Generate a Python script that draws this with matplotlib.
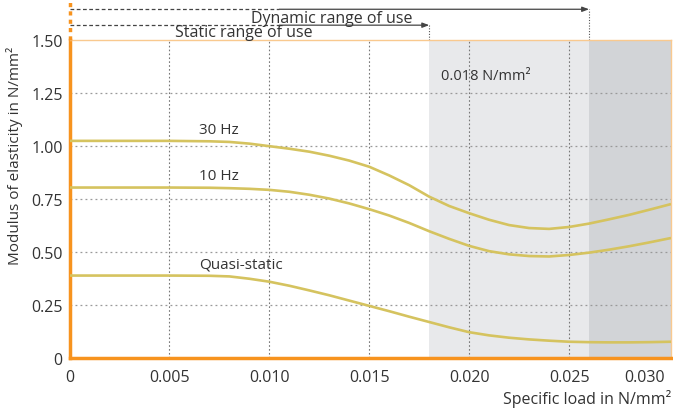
import matplotlib.pyplot as plt
from matplotlib.ticker import FixedLocator
from matplotlib.transforms import ScaledTranslation

plt.rcParams['font.family'] = ['Open Sans', 'DejaVu Sans']

# data
load = [0, 0.005, 0.007, 0.008, 0.009, 0.010, 0.011, 0.012, 0.013, 0.014, 0.015,
        0.016, 0.017, 0.018, 0.019, 0.020, 0.021, 0.022, 0.023, 0.024, 0.025,
        0.026, 0.027, 0.028, 0.029, 0.0301]
hz30 = [1.025, 1.025, 1.023, 1.020, 1.012, 1.000, 0.988, 0.974, 0.955, 0.932, 0.903,
        0.862, 0.816, 0.762, 0.718, 0.684, 0.653, 0.628, 0.614, 0.610, 0.619,
        0.635, 0.655, 0.676, 0.700, 0.727]
hz10 = [0.805, 0.805, 0.804, 0.802, 0.799, 0.794, 0.785, 0.771, 0.753, 0.730, 0.703,
        0.673, 0.638, 0.599, 0.563, 0.530, 0.505, 0.490, 0.482, 0.480, 0.487,
        0.498, 0.512, 0.528, 0.546, 0.567]
quasi = [0.390, 0.390, 0.389, 0.386, 0.375, 0.361, 0.342, 0.320, 0.297, 0.272, 0.247,
         0.222, 0.196, 0.171, 0.146, 0.123, 0.108, 0.097, 0.089, 0.083, 0.078,
         0.076, 0.075, 0.075, 0.076, 0.078]
curve_labels = [('30 Hz', 0.0065, 1.045), ('10 Hz', 0.0065, 0.825), ('Quasi-static', 0.0065, 0.41)]

static_end = 0.018
dynamic_end = 0.026
xmax = 0.0301

xticks = [0, 0.005, 0.010, 0.015, 0.020, 0.025, 0.030]
xticklabels = ['0', '0.005', '0.010', '0.015', '0.020', '0.025', '0.030']
yticks = [0, 0.25, 0.5, 0.75, 1.0, 1.25, 1.5]
yticklabels = ['0', '0.25', '0.50', '0.75', '1.00', '1.25', '1.50']

orange = '#f7931e'
curve_c = '#d5c35f'
txt = '#333333'

fig = plt.figure(figsize=(6.73, 4.10), dpi=100)
ax = fig.add_axes([0.1033, 0.1237, 0.8937, 0.776])

ax.axvspan(static_end, dynamic_end, color='#e8e9eb', zorder=0, lw=0)
ax.axvspan(dynamic_end, xmax, color='#d2d4d7', zorder=0, lw=0)

for v in xticks[1:-1]:
    ax.axvline(v, color='#777777', lw=0.8, ls=(0, (1.5, 2)), zorder=1)
for v in yticks[1:-1]:
    ax.axhline(v, color='#999999', lw=0.9, ls=(0, (1.5, 2.5)), zorder=1)

for ys in (hz30, hz10, quasi):
    ax.plot(load, ys, color=curve_c, lw=1.9, zorder=3, solid_capstyle='butt')

for lab, x, y in curve_labels:
    ax.text(x, y, lab, fontsize=11, color=txt, va='bottom', ha='left')

ax.text(0.01857, 1.333, '0.018 N/mm²', fontsize=10.5, color=txt, va='center', ha='left')

ax.set_xlim(0, xmax)
ax.set_ylim(0, 1.5)
ax.xaxis.set_major_locator(FixedLocator(xticks))
ax.set_xticklabels(xticklabels)
ax.yaxis.set_major_locator(FixedLocator(yticks))
ax.set_yticklabels(yticklabels)
ax.tick_params(length=0, labelsize=11.5, labelcolor=txt)
ax.tick_params(axis='x', pad=8)
ax.tick_params(axis='y', pad=5)
# last x label sits left of its tick, flush with the plot edge
last = ax.get_xticklabels()[-1]
last.set_transform(last.get_transform() + ScaledTranslation(-0.24, 0, fig.dpi_scale_trans))

ax.spines['left'].set_color(orange)
ax.spines['left'].set_linewidth(2.5)
ax.spines['bottom'].set_color(orange)
ax.spines['bottom'].set_linewidth(2.5)
ax.spines['top'].set_color('#f9c98f')
ax.spines['top'].set_linewidth(1.0)
ax.spines['right'].set_color('#f9c98f')
ax.spines['right'].set_linewidth(1.0)

ax.set_ylabel('Modulus of elasticity in N/mm²', fontsize=11, color=txt, loc='top')
ax.yaxis.set_label_coords(-0.077, 0.982)
ax.set_xlabel('Specific load in N/mm²', fontsize=11.5, color=txt, loc='right')
ax.xaxis.set_label_coords(1.0, -0.097)

# range arrows above the plot (axes coordinates in y)
tr = ax.get_xaxis_transform()
ax.plot([0, 0], [1.0, 1.12], color=orange, lw=2.5, ls=(0, (1.2, 1.2)),
        transform=tr, clip_on=False, zorder=5)

for x_end, y_line, label, x_lab, y_lab, dash_end in [
        (dynamic_end, 1.097, 'Dynamic range of use', 0.0091, 1.069, 0.0105),
        (static_end, 1.047, 'Static range of use', 0.0053, 1.025, 0.0105)]:
    ax.plot([0, dash_end], [y_line, y_line], color='#444444', lw=0.9, ls=(0, (3, 2)),
            transform=tr, clip_on=False)
    ax.annotate('', xy=(x_end, y_line), xytext=(dash_end, y_line), xycoords=tr,
                textcoords=tr, annotation_clip=False,
                arrowprops=dict(arrowstyle='-|>,head_length=0.4,head_width=0.15',
                                color='#444444', lw=0.9, shrinkA=0, shrinkB=0))
    ax.plot([x_end, x_end], [1.0, y_line], color='#555555', lw=0.8, ls=(0, (1, 1.5)),
            transform=tr, clip_on=False)
    ax.text(x_lab, y_lab, label, fontsize=11.5, color=txt, va='center', ha='left',
            transform=tr)

fig.savefig('out.png', dpi=100)
